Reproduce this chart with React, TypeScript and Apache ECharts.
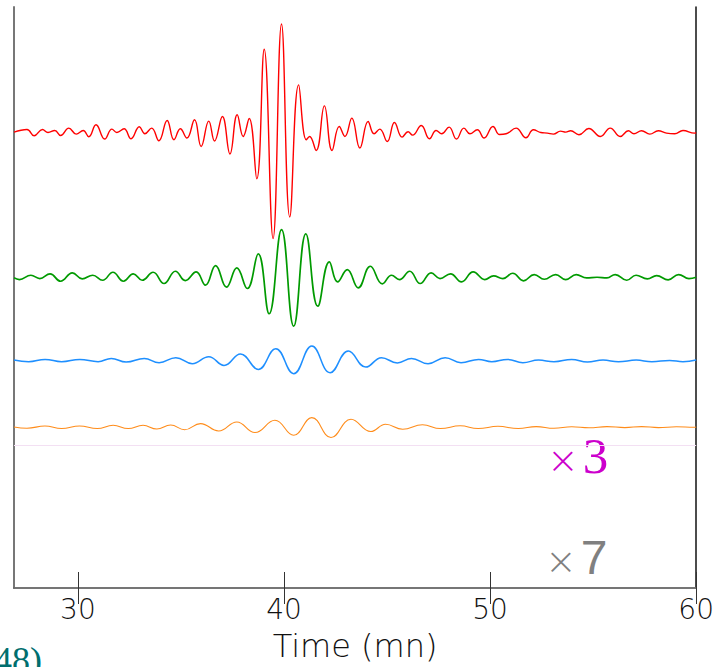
import React, { useEffect, useRef } from "react";
import * as echarts from "echarts";

// Time axis (minutes)
const xMin = 26.9;
const xMax = 60;
const xTickValues = [30, 40, 50, 60];

// Red trace (peaks / troughs)
const redTime = [26.90,27.53,27.88,28.28,28.55,28.88,29.16,29.56,29.92,30.26,30.53,30.88,31.30,31.65,31.89,32.24,32.58,32.98,33.25,33.58,33.93,34.33,34.66,34.97,35.29,35.66,35.98,36.35,36.63,37.01,37.38,37.73,38.02,38.31,38.68,39.04,39.47,39.88,40.28,40.71,41.08,41.24,41.56,41.96,42.33,42.68,42.96,43.29,43.68,44.08,44.37,44.65,45.01,45.36,45.73,46.02,46.24,46.66,47.06,47.38,47.65,48.01,48.37,48.73,49.02,49.38,49.71,50.14,50.46,50.78,51.26,51.74,52.10,52.46,52.78,53.07,53.42,53.67,53.91,54.31,54.79,55.35,55.83,56.31,56.71,56.98,57.35,57.75,58.16,58.56,58.96,59.36,59.92,60.00];
const redValue = [456.7,459.3,453,459.3,456.3,458.3,453.3,460.7,454.7,458.3,452,464,449.7,459.7,456.3,460,450,462,455,460.7,448,468.3,449,460,450.7,469,442.3,467.7,447.7,472.3,434.8,474,452.3,470.3,410,539.7,350,565,371.7,504,449,452.3,438.3,483,438.3,462.3,452.3,470.7,440.7,467.3,455,459.7,447.3,466.3,451.7,457,453.7,463.3,450,458.3,455,461.7,449.7,460.7,455,459,450.7,462.3,454.3,455,460.7,451,459,456.3,455.7,454.7,457.7,456.7,458,454,460.3,452.3,460.7,452.3,458,455,458,454.7,458,455.7,455,458.3,455.7,456];

// Green trace
const greenTime = [26.90,27.16,27.72,28.15,28.65,29.16,29.73,30.21,30.72,31.20,31.70,32.21,32.69,33.12,33.65,34.18,34.73,35.21,35.74,36.19,36.68,37.21,37.71,38.22,38.75,39.28,39.88,40.47,41.06,41.64,42.20,42.60,43.07,43.60,44.19,44.77,45.22,45.60,46.10,46.61,47.14,47.57,48.08,48.61,49.18,49.74,50.17,50.62,51.10,51.62,52.14,52.63,53.18,53.67,54.18,54.68,55.19,55.67,56.07,56.63,57.08,57.63,58.08,58.64,59.15,59.65,60.00];
const greenValue = [310.7,309,313.3,310,314.7,307.3,315.7,309.7,313.3,308.3,316.3,307.3,314.7,308.3,316.3,305,317.3,308,316.7,303.3,323,301.3,320.7,300,334.7,274.7,359,262.3,354.7,282.3,326.7,306.7,319,300.7,322.3,304.7,313.3,309,317.3,305,315.7,310,314.7,306.7,316.7,309,312.7,310,315.3,307.7,314,309.3,314,309,314,310.7,311.3,310.7,314,308.3,313.3,309.7,313,308.7,314,310,311.3];

// Blue trace
const blueTime = [26.90,27.61,28.41,29.21,30.09,30.98,31.62,32.34,33.22,33.94,34.75,35.55,36.35,37.09,37.89,38.75,39.60,40.47,41.35,42.24,43.12,43.97,44.73,45.50,46.19,46.99,47.82,48.59,49.44,50.08,50.84,51.59,52.35,53.10,53.96,54.72,55.48,56.23,57.09,57.85,58.71,59.36,60.00];
const blueValue = [228.3,226.7,229,226.7,229,226.7,230,226.3,230,225.7,230.7,224.7,231.7,223,234.5,219,239.7,214.7,242.3,215.7,237.3,221.3,230.7,225.5,230,224.7,230.7,225.7,229,226.7,229,225.7,228.3,226.7,229,226.3,228.3,226.7,228.3,226.7,228,226.7,228.3];

// Orange trace
const orangeTime = [26.90,27.53,28.40,29.21,30.08,30.94,31.71,32.44,33.16,33.83,34.50,35.18,35.95,36.83,37.71,38.59,39.56,40.47,41.35,42.28,43.25,44.21,44.93,45.76,46.72,47.59,48.55,49.42,50.38,51.37,52.24,53.10,53.96,54.80,55.67,56.54,57.35,58.17,59.04,59.90,60.00];
const orangeValue = [161.3,160,162.3,159.7,162.3,159.7,163,159.7,163,159.3,163.3,158.5,164.7,157.3,166.3,155.7,168,153,170.7,150.7,169,156.7,164,159,163.5,159.7,162.5,159.7,162,159.7,161.7,160,161.5,160.5,161.7,160.7,161.7,160.7,161.5,161,161.3];

// Faint reference level below the orange trace
const referenceLevel = 142.5;

const zip = (t: number[], v: number[]) => t.map((x, i) => [x, v[i]]);

export default function App() {
  const ref = useRef<HTMLDivElement>(null);

  useEffect(() => {
    if (!ref.current) return;
    const chart = echarts.init(ref.current, undefined, { renderer: "svg" });

    const labelFont = "DejaVu Sans";
    const lineSeries = (name: string, t: number[], v: number[], color: string, width: number) => ({
      name,
      type: "line",
      data: zip(t, v),
      smooth: 0.45,
      showSymbol: false,
      symbol: "none",
      lineStyle: { color, width },
      silent: true,
      z: 3,
    });

    chart.setOption({
      animation: false,
      backgroundColor: "#ffffff",
      grid: { left: 14, top: 7, right: 17, bottom: 78, containLabel: false },
      xAxis: [
        {
          type: "value",
          position: "bottom",
          min: xMin,
          max: xMax,
          splitNumber: 3,
          name: "Time (mn)",
          nameLocation: "middle",
          nameGap: 42,
          nameTextStyle: { fontFamily: labelFont, fontWeight: 200, fontSize: 32, color: "#111" },
          axisLine: { show: true, lineStyle: { color: "#444", width: 1.5 } },
          axisTick: {
            show: true,
            inside: true,
            length: 16,
            customValues: xTickValues,
            lineStyle: { color: "#333", width: 1 },
          },
          axisLabel: {
            show: true,
            margin: 7,
            customValues: xTickValues,
            fontFamily: labelFont,
            fontWeight: 200,
            fontSize: 28,
            color: "#111",
          },
          splitLine: { show: false },
        },
        {
          type: "value",
          position: "top",
          min: xMin,
          max: xMax,
          splitNumber: 3,
          axisLine: { show: true, lineStyle: { color: "#777", width: 1.5 } },
          axisTick: {
            show: true,
            inside: true,
            length: 16,
            customValues: xTickValues,
            lineStyle: { color: "#333", width: 1 },
          },
          axisLabel: { show: false },
          splitLine: { show: false },
        },
      ],
      yAxis: [
        {
          type: "value",
          position: "left",
          min: 0,
          max: 582,
          axisLine: { show: true, lineStyle: { color: "#777", width: 2 } },
          axisTick: { show: false },
          axisLabel: { show: false },
          splitLine: { show: false },
        },
        {
          type: "value",
          position: "right",
          min: 0,
          max: 582,
          axisLine: { show: true, lineStyle: { color: "#111", width: 1.5 } },
          axisTick: { show: false },
          axisLabel: { show: false },
          splitLine: { show: false },
        },
      ],
      series: [
        lineSeries("red", redTime, redValue, "#ff0000", 1.4),
        lineSeries("green", greenTime, greenValue, "#009a00", 1.7),
        lineSeries("blue", blueTime, blueValue, "#1e8fff", 1.5),
        {
          ...lineSeries("orange", orangeTime, orangeValue, "#ff8c1a", 1.1),
          markLine: {
            silent: true,
            symbol: ["none", "none"],
            label: { show: false },
            lineStyle: { color: "#f3e0f3", width: 1, type: "solid" },
            data: [{ yAxis: referenceLevel }],
          },
        },
      ],
      graphic: [
        {
          type: "text",
          left: 547,
          top: 430,
          style: {
            text: "{a|×}{b|3}",
            rich: {
              a: { fontFamily: "DejaVu Sans", fontWeight: 200, fontSize: 38, fill: "#cc00cc", padding: [8, 4, 0, 0] },
              b: { fontFamily: "Liberation Serif", fontSize: 51, fill: "#cc00cc" },
            },
          },
        },
        {
          type: "text",
          left: 545,
          top: 533,
          style: {
            text: "{a|×}{b|7}",
            rich: {
              a: { fontFamily: "DejaVu Sans", fontWeight: 200, fontSize: 38, fill: "#808080", padding: [8, 4, 0, 0] },
              b: { fontFamily: "Liberation Sans", fontSize: 48, fill: "#808080" },
            },
          },
        },
        {
          type: "text",
          left: -6,
          top: 642,
          style: {
            text: "48)",
            fontFamily: "Liberation Serif",
            fontSize: 36,
            fill: "#006e6e",
          },
        },
      ],
    });

    return () => chart.dispose();
  }, []);

  return (
    <div
      ref={ref}
      style={{ position: "fixed", left: 0, top: 0, width: 717, height: 667, background: "#fff" }}
    />
  );
}
